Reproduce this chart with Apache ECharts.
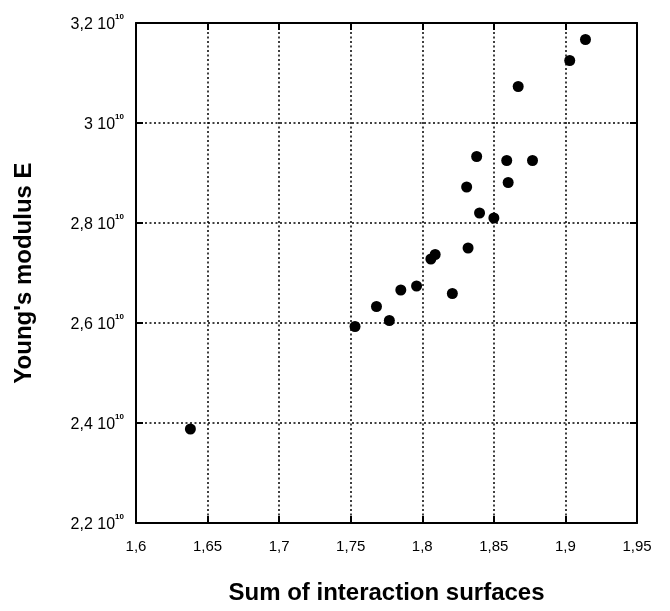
<!DOCTYPE html>
<html>
<head>
<meta charset="utf-8">
<script src="https://cdn.jsdelivr.net/npm/echarts@6/dist/echarts.min.js"></script>
<style>
  html, body { margin: 0; padding: 0; background: #fff; }
  #chart { width: 670px; height: 611px; }
</style>
</head>
<body>
<div id="chart"></div>
<script>
// Sum of interaction surfaces (x) against Young's modulus E (y)
const surfaceSum = [1.638, 1.753, 1.768, 1.777, 1.785, 1.796, 1.806, 1.809, 1.821, 1.832,
                    1.831, 1.838, 1.840, 1.850, 1.859, 1.860, 1.867, 1.877, 1.903, 1.914];
const youngModulus = [2.388e10, 2.593e10, 2.633e10, 2.605e10, 2.666e10, 2.674e10, 2.728e10, 2.737e10, 2.659e10, 2.750e10,
                      2.872e10, 2.933e10, 2.820e10, 2.810e10, 2.925e10, 2.881e10, 3.073e10, 2.925e10, 3.125e10, 3.167e10];

const xTicks = { min: 1.6, max: 1.95, step: 0.05 };
const yTicks = { min: 2.2e10, max: 3.2e10, step: 0.2e10 };

const points = surfaceSum.map((x, i) => [x, youngModulus[i]]);

const fontFamily = '"Liberation Sans", Arial, sans-serif';
const gridLine = { show: true, lineStyle: { color: '#000', type: [2, 2.5], width: 1.5 } };
const frameLine = { show: true, lineStyle: { color: '#000', width: 2 } };
const innerTick = { show: true, inside: true, length: 7, lineStyle: { color: '#000', width: 2 } };

function fmtX(v) {
  return (Math.round(v * 100) / 100).toString().replace('.', ',');
}
function fmtY(v) {
  const m = (Math.round(v / 1e9) / 10).toString().replace('.', ',');
  return '{b|' + m + ' 10}{s|10}';
}

const chart = echarts.init(document.getElementById('chart'), null, { renderer: 'canvas' });
chart.setOption({
  animation: false,
  backgroundColor: '#fff',
  grid: { left: 136, right: 33, top: 23, bottom: 88, containLabel: false, outerBoundsMode: 'none' },
  xAxis: [
    {
      type: 'value', min: xTicks.min, max: xTicks.max, interval: xTicks.step,
      axisLine: frameLine, axisTick: innerTick, splitLine: gridLine,
      axisLabel: { formatter: fmtX, color: '#000', fontSize: 15, fontFamily, margin: 16 },
      name: 'Sum of interaction surfaces', nameLocation: 'middle', nameGap: 58,
      nameTextStyle: { color: '#000', fontSize: 24, fontWeight: 'bold', fontFamily }
    },
    {
      type: 'value', position: 'top', min: xTicks.min, max: xTicks.max, interval: xTicks.step,
      axisLine: frameLine, axisTick: innerTick, splitLine: { show: false }, axisLabel: { show: false }
    }
  ],
  yAxis: [
    {
      type: 'value', min: yTicks.min, max: yTicks.max, interval: yTicks.step,
      axisLine: frameLine, axisTick: innerTick, splitLine: gridLine,
      axisLabel: {
        formatter: fmtY, margin: 12,
        rich: {
          b: { color: '#000', fontSize: 16, fontFamily, lineHeight: 20, verticalAlign: 'bottom' },
          s: { color: '#000', fontSize: 8, fontWeight: 'bold', fontFamily, lineHeight: 20, verticalAlign: 'top' }
        }
      },
      name: "Young's modulus E", nameLocation: 'middle', nameGap: 100, nameRotate: 90,
      nameTextStyle: { color: '#000', fontSize: 24, fontWeight: 'bold', fontFamily }
    },
    {
      type: 'value', position: 'right', min: yTicks.min, max: yTicks.max, interval: yTicks.step,
      axisLine: frameLine, axisTick: innerTick, splitLine: { show: false }, axisLabel: { show: false }
    }
  ],
  series: [{
    type: 'scatter',
    data: points,
    symbol: 'circle',
    symbolSize: 11,
    itemStyle: { color: '#000', opacity: 1 }
  }]
});
</script>
</body>
</html>
